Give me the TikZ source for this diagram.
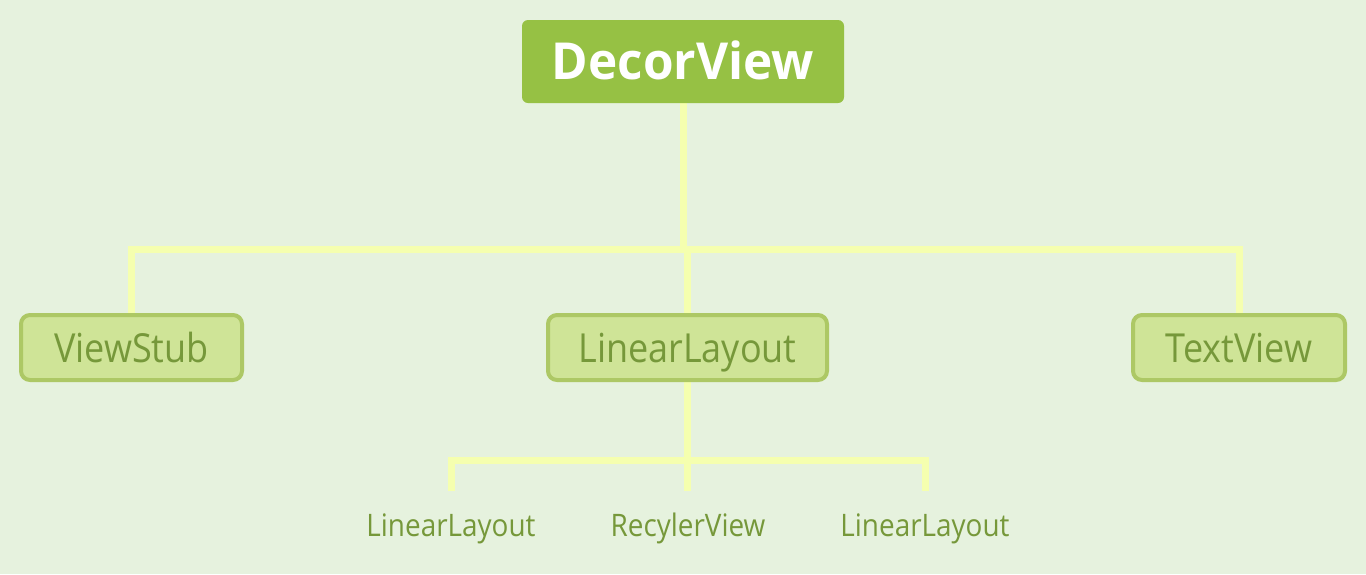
\documentclass[tikz,border=0pt]{standalone}
\usepackage{fontspec}
\usetikzlibrary{backgrounds}
\newfontfamily\boxfont[FakeStretch=0.9]{Open Sans}
\newfontfamily\boldfont[FakeStretch=0.97]{Open Sans Bold}
\definecolor{bg}{RGB}{230,242,222}
\definecolor{rootfill}{RGB}{150,193,68}
\definecolor{boxfill}{RGB}{207,228,151}
\definecolor{boxline}{RGB}{173,200,101}
\definecolor{txt}{RGB}{118,152,58}
\definecolor{conn}{RGB}{245,255,175}
\tikzset{
  rootbox/.style={fill=rootfill, rounded corners=6pt, minimum width=322pt, minimum height=83pt,
    inner sep=0pt, text=white, font=\boldfont\fontsize{51}{51}\selectfont, text height=36.5pt, text depth=0pt},
  childbox/.style={fill=boxfill, draw=boxline, line width=4pt, rounded corners=9pt, minimum height=65pt,
    inner sep=0pt, text=txt, font=\boxfont\fontsize{40}{40}\selectfont, text height=29pt, text depth=0pt},
  leaf/.style={inner sep=0pt, text=txt, font=\boxfont\fontsize{31}{31}\selectfont, text height=22pt, text depth=0pt},
  link/.style={draw=conn, line width=7pt, line join=miter}
}
\begin{document}
\begin{tikzpicture}[x=1pt,y=-1pt]
\useasboundingbox (0,0) rectangle (1366,574);
\coordinate (j1) at (683,249);
\coordinate (j2) at (687.5,460);
\coordinate (b1) at (451,491);
\coordinate (b2) at (687.5,491);
\coordinate (b3) at (925,491);
\node[rootbox] (decor) at (683,61.5) {DecorView};
\node[childbox, minimum width=221pt] (vs) at (131.5,347.5) {ViewStub};
\node[childbox, minimum width=279pt] (ll) at (687.5,347.5) {LinearLayout};
\node[childbox, minimum width=212pt] (tv) at (1239,347.5) {TextView};
\node[leaf] (l1) at (451,525) {LinearLayout};
\node[leaf] (l2) at (688,525) {RecylerView};
\node[leaf] (l3) at (925,525) {LinearLayout};
\begin{scope}[on background layer]
\fill[bg] (0,0) rectangle (1366,574);
\path[link] (decor.south) -- (j1);
\path[link] (vs.north) -- (vs.north |- j1) -- (tv.north |- j1) -- (tv.north);
\path[link] (ll.north |- j1) -- (ll.north);
\path[link] (ll.south) -- (j2);
\path[link] (b1) -- (b1 |- j2) -- (b3 |- j2) -- (b3);
\path[link] (j2) -- (b2);
\end{scope}
\end{tikzpicture}
\end{document}
